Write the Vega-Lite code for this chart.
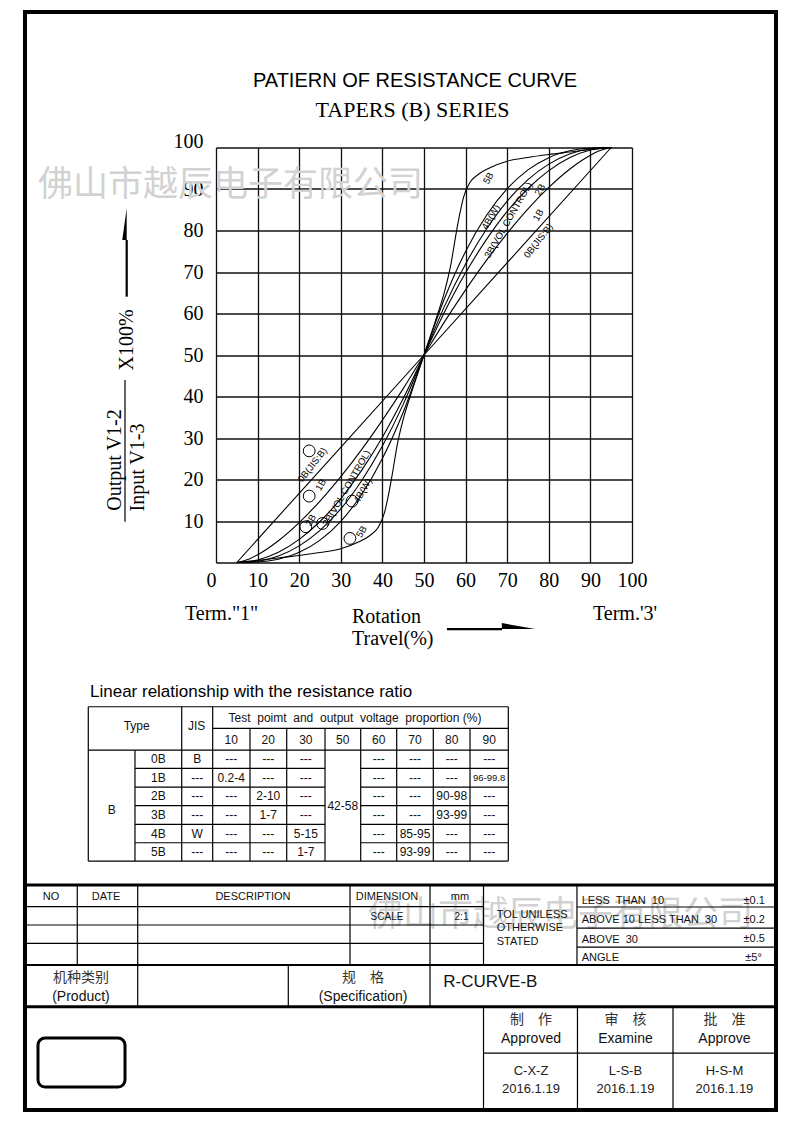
{
"$schema": "https://vega.github.io/schema/vega-lite/v6.json",
"width": 416,
"height": 415,
"autosize": {"type": "none"},
"padding": {"left": 216, "top": 147.5, "right": 162, "bottom": 560.5},
"background": "#ffffff",
"config": {"view": {"stroke": null}, "text": {"font": "Liberation Sans", "color": "#000"}},
"datasets": {
"curves": [
{"curve":"0B","x":5,"y":0},{"curve":"0B","x":50,"y":50},{"curve":"0B","x":95,"y":100},
{"curve":"1B","x":5,"y":0},{"curve":"1B","x":8,"y":0.86},{"curve":"1B","x":10,"y":1.85},{"curve":"1B","x":12,"y":3.07},{"curve":"1B","x":15,"y":5.24},{"curve":"1B","x":20,"y":9.62},{"curve":"1B","x":25,"y":14.8},{"curve":"1B","x":30,"y":20.7},{"curve":"1B","x":35,"y":27.2},{"curve":"1B","x":40,"y":34.3},{"curve":"1B","x":45,"y":41.9},{"curve":"1B","x":50,"y":50},{"curve":"1B","x":55,"y":58.1},{"curve":"1B","x":60,"y":65.7},{"curve":"1B","x":65,"y":72.8},{"curve":"1B","x":70,"y":79.3},{"curve":"1B","x":75,"y":85.2},{"curve":"1B","x":80,"y":90.38},{"curve":"1B","x":85,"y":94.76},{"curve":"1B","x":88,"y":96.93},{"curve":"1B","x":90,"y":98.15},{"curve":"1B","x":92,"y":99.14},{"curve":"1B","x":95,"y":100},
{"curve":"2B","x":5,"y":0},{"curve":"2B","x":10,"y":0.62},{"curve":"2B","x":15,"y":2.47},{"curve":"2B","x":20,"y":5.56},{"curve":"2B","x":25,"y":9.88},{"curve":"2B","x":30,"y":15.4},{"curve":"2B","x":35,"y":22.2},{"curve":"2B","x":40,"y":30.2},{"curve":"2B","x":45,"y":39.5},{"curve":"2B","x":50,"y":50},{"curve":"2B","x":55,"y":60.5},{"curve":"2B","x":60,"y":69.8},{"curve":"2B","x":65,"y":77.8},{"curve":"2B","x":70,"y":84.6},{"curve":"2B","x":75,"y":90.12},{"curve":"2B","x":80,"y":94.44},{"curve":"2B","x":85,"y":97.53},{"curve":"2B","x":90,"y":99.38},{"curve":"2B","x":95,"y":100},
{"curve":"3B","x":5,"y":0},{"curve":"3B","x":10,"y":0.32},{"curve":"3B","x":15,"y":1.57},{"curve":"3B","x":20,"y":4.0},{"curve":"3B","x":25,"y":7.74},{"curve":"3B","x":30,"y":12.9},{"curve":"3B","x":35,"y":19.7},{"curve":"3B","x":40,"y":28.05},{"curve":"3B","x":45,"y":38.1},{"curve":"3B","x":50,"y":50},{"curve":"3B","x":55,"y":61.9},{"curve":"3B","x":60,"y":71.95},{"curve":"3B","x":65,"y":80.3},{"curve":"3B","x":70,"y":87.1},{"curve":"3B","x":75,"y":92.26},{"curve":"3B","x":80,"y":96.0},{"curve":"3B","x":85,"y":98.43},{"curve":"3B","x":90,"y":99.68},{"curve":"3B","x":95,"y":100},
{"curve":"4B","x":5,"y":0},{"curve":"4B","x":10,"y":0.12},{"curve":"4B","x":15,"y":0.8},{"curve":"4B","x":20,"y":2.44},{"curve":"4B","x":25,"y":5.38},{"curve":"4B","x":30,"y":9.92},{"curve":"4B","x":35,"y":16.4},{"curve":"4B","x":40,"y":25.05},{"curve":"4B","x":45,"y":36.2},{"curve":"4B","x":50,"y":50},{"curve":"4B","x":55,"y":63.8},{"curve":"4B","x":60,"y":74.95},{"curve":"4B","x":65,"y":83.6},{"curve":"4B","x":70,"y":90.08},{"curve":"4B","x":75,"y":94.62},{"curve":"4B","x":80,"y":97.56},{"curve":"4B","x":85,"y":99.2},{"curve":"4B","x":90,"y":99.88},{"curve":"4B","x":95,"y":100},
{"curve":"5B","x":5,"y":0},{"curve":"5B","x":10,"y":0.5},{"curve":"5B","x":15,"y":1.1},{"curve":"5B","x":20,"y":1.7},{"curve":"5B","x":25,"y":2.4},{"curve":"5B","x":30,"y":3.3},{"curve":"5B","x":34,"y":4.8},{"curve":"5B","x":37,"y":6.5},{"curve":"5B","x":39,"y":8.5},{"curve":"5B","x":40.5,"y":12},{"curve":"5B","x":41.5,"y":16.5},{"curve":"5B","x":42.5,"y":22},{"curve":"5B","x":43.5,"y":28},{"curve":"5B","x":45,"y":34.5},{"curve":"5B","x":47,"y":41},{"curve":"5B","x":50,"y":50},{"curve":"5B","x":53,"y":59},{"curve":"5B","x":55,"y":65.5},{"curve":"5B","x":56.5,"y":72},{"curve":"5B","x":57.5,"y":78},{"curve":"5B","x":58.5,"y":83.5},{"curve":"5B","x":59.5,"y":88},{"curve":"5B","x":61,"y":91.5},{"curve":"5B","x":63,"y":93.5},{"curve":"5B","x":66,"y":95.2},{"curve":"5B","x":70,"y":96.7},{"curve":"5B","x":75,"y":97.6},{"curve":"5B","x":80,"y":98.3},{"curve":"5B","x":85,"y":98.9},{"curve":"5B","x":90,"y":99.5},{"curve":"5B","x":95,"y":100}
],
"curveLabels": [
{"text":"0B(JIS:B)","x":23.2,"y":23.5},{"text":"1B","x":25.2,"y":18.7},{"text":"2B","x":22.8,"y":10.2},{"text":"3B(VOL CONTROL)","x":31.4,"y":17.9},{"text":"4B(W)","x":35.3,"y":17.3},{"text":"5B","x":35.0,"y":7.4},
{"text":"5B","x":65.5,"y":92.6},{"text":"4B(W)","x":66.1,"y":83.2},{"text":"3B(VOL CONTROL)","x":70.3,"y":82.5},{"text":"2B","x":77.9,"y":89.8},{"text":"1B","x":77.5,"y":83.7},{"text":"0B(JIS:B)","x":77.5,"y":77.5}
],
"circles": [
{"x":22.4,"y":26.9},{"x":22.4,"y":16.0},{"x":21.6,"y":8.6},{"x":25.6,"y":9.4},{"x":32.7,"y":14.8},{"x":32.2,"y":5.8}
],
"frame": [{"x":6.61,"y":3.17,"x2":205.24,"y2":293.57}],
"badge": [{"x":10.05,"y":274.53,"x2":33.06,"y2":287.49}],
"arrowheads": [{"dir":"up","x":33.51,"y":59.29},{"dir":"right","x":137.13,"y":166.36}],
"thickLines": [
{"x":6.61,"y":234.07,"x2":205.24,"y2":234.07},
{"x":6.61,"y":266.25,"x2":205.24,"y2":266.25}
],
"midLines": [
{"x":6.61,"y":255.22,"x2":205.24,"y2":255.22},
{"x":33.51,"y":63.48,"x2":33.51,"y2":78.47},
{"x":118.22,"y":166.36,"x2":132.77,"y2":166.36}
],
"thinLines": [
{"x":23.35,"y":186.91,"x2":134.44,"y2":186.91},
{"x":56.25,"y":192.62,"x2":134.44,"y2":192.62},
{"x":23.35,"y":198.36,"x2":134.44,"y2":198.36},
{"x":35.70,"y":203.20,"x2":85.96,"y2":203.20},{"x":95.40,"y":203.20,"x2":134.44,"y2":203.20},
{"x":35.70,"y":208.15,"x2":85.96,"y2":208.15},{"x":95.40,"y":208.15,"x2":134.44,"y2":208.15},
{"x":35.70,"y":213.09,"x2":85.96,"y2":213.09},{"x":95.40,"y":213.09,"x2":134.44,"y2":213.09},
{"x":35.70,"y":218.01,"x2":85.96,"y2":218.01},{"x":95.40,"y":218.01,"x2":134.44,"y2":218.01},
{"x":35.70,"y":222.88,"x2":85.96,"y2":222.88},{"x":95.40,"y":222.88,"x2":134.44,"y2":222.88},
{"x":23.35,"y":227.72,"x2":134.44,"y2":227.72},
{"x":23.35,"y":186.91,"x2":23.35,"y2":227.72},
{"x":35.70,"y":198.36,"x2":35.70,"y2":227.72},
{"x":48.06,"y":186.91,"x2":48.06,"y2":227.72},
{"x":56.25,"y":186.91,"x2":56.25,"y2":227.72},
{"x":66.12,"y":192.62,"x2":66.12,"y2":227.72},
{"x":75.83,"y":192.62,"x2":75.83,"y2":227.72},
{"x":85.96,"y":192.62,"x2":85.96,"y2":227.72},
{"x":95.40,"y":192.62,"x2":95.40,"y2":227.72},
{"x":104.92,"y":192.62,"x2":104.92,"y2":227.72},
{"x":114.60,"y":192.62,"x2":114.60,"y2":227.72},
{"x":124.31,"y":192.62,"x2":124.31,"y2":227.72},
{"x":134.44,"y":186.91,"x2":134.44,"y2":227.72},
{"x":6.61,"y":239.80,"x2":127.88,"y2":239.80},
{"x":152.60,"y":239.88,"x2":205.24,"y2":239.88},
{"x":6.61,"y":244.64,"x2":127.88,"y2":244.64},
{"x":152.60,"y":245.44,"x2":205.24,"y2":245.44},
{"x":6.61,"y":249.48,"x2":127.88,"y2":249.48},
{"x":152.60,"y":250.46,"x2":205.24,"y2":250.46},
{"x":127.88,"y":278.50,"x2":205.24,"y2":278.50},
{"x":20.44,"y":234.07,"x2":20.44,"y2":255.22},
{"x":36.42,"y":234.07,"x2":36.42,"y2":266.25},
{"x":92.57,"y":234.07,"x2":92.57,"y2":255.22},
{"x":76.25,"y":255.22,"x2":76.25,"y2":266.25},
{"x":113.73,"y":234.07,"x2":113.73,"y2":266.25},
{"x":127.88,"y":234.07,"x2":127.88,"y2":255.22},
{"x":127.88,"y":266.25,"x2":127.88,"y2":293.57},
{"x":152.60,"y":234.07,"x2":152.60,"y2":255.22},
{"x":152.73,"y":266.25,"x2":152.73,"y2":293.57},
{"x":178.00,"y":266.25,"x2":178.00,"y2":293.57},
{"x":33.06,"y":100.50,"x2":33.06,"y2":137.98}
],
"notes": [
{"role":"title","text":"PATIERN OF RESISTANCE CURVE","x":109.76,"y":21.42},
{"role":"subtitle","text":"TAPERS (B) SERIES","x":109.10,"y":29.09},
{"role":"axisnote","text":"Term.\"1\"","x":48.93,"y":162.39},
{"role":"axisnote","text":"Rotation","x":93.10,"y":163.18},
{"role":"axisnote","text":"Travel(%)","x":93.10,"y":169.00},
{"role":"axisnote","text":"Term.'3'","x":156.84,"y":162.39},
{"role":"ytitle","text":"Output V1-2","x":30.42,"y":121.66},
{"role":"ytitle","text":"Input V1-3","x":36.37,"y":123.64},
{"role":"ytitle","text":"X100%","x":33.59,"y":89.92},
{"role":"watermark","text":"佛山市越辰电子有限公司","x":10.05,"y":48.93},
{"role":"watermark","text":"佛山市越辰电子有限公司","x":97.33,"y":242.0},
{"role":"tabletitle","text":"Linear relationship with the resistance ratio","x":23.80,"y":182.94},
{"role":"tablehdr","text":"Type","x":36.15,"y":192.01},
{"role":"tablehdr","text":"JIS","x":52.02,"y":192.01},
{"role":"tablehdr","text":"Test\u00a0 poimt\u00a0 and\u00a0 output\u00a0 voltage\u00a0 proportion (%)","x":93.89,"y":189.77},
{"role":"tablehdr","text":"B","x":29.54,"y":214.23},
{"role":"tablehdr","text":"42-58","x":90.66,"y":213.04},
{"role":"hdr","text":"NO","x":13.49,"y":237.11},
{"role":"hdr","text":"DATE","x":28.03,"y":237.11},
{"role":"hdr","text":"DESCRIPTION","x":66.91,"y":237.11},
{"role":"hdr","text":"DIMENSION","x":102.35,"y":237.11},
{"role":"hdr","text":"mm","x":121.66,"y":237.11},
{"role":"small","text":"SCALE","x":102.35,"y":242.40},
{"role":"small","text":"2:1","x":122.06,"y":242.40},
{"role":"tol","text":"TOL UNILESS","x":131.37,"y":242.0},
{"role":"tol","text":"OTHERWISE","x":131.37,"y":245.52},
{"role":"tol","text":"STATED","x":131.37,"y":249.06},
{"role":"tol","text":"LESS\u00a0 THAN\u00a0 10","x":153.85,"y":238.22},
{"role":"tol","text":"ABOVE 10 LESS THAN\u00a0 30","x":153.85,"y":243.32},
{"role":"tol","text":"ABOVE\u00a0 30","x":153.85,"y":248.48},
{"role":"tol","text":"ANGLE","x":153.85,"y":253.45},
{"role":"tolval","text":"±0.1","x":202.3,"y":238.22},
{"role":"tolval","text":"±0.2","x":202.3,"y":243.32},
{"role":"tolval","text":"±0.5","x":202.3,"y":248.35},
{"role":"tolval","text":"±5°","x":201.5,"y":253.24},
{"role":"big","text":"R-CURVE-B","x":117.25,"y":259.64},
{"role":"cjk","text":"机种类别","x":21.42,"y":258.74},
{"role":"cjk","text":"规　格","x":96.01,"y":258.74},
{"role":"cjk","text":"制　作","x":140.44,"y":269.77},
{"role":"cjk","text":"审　核","x":165.43,"y":269.77},
{"role":"cjk","text":"批　准","x":191.6,"y":269.77},
{"role":"en14","text":"(Product)","x":21.42,"y":263.61},
{"role":"en14","text":"(Specification)","x":96.01,"y":263.61},
{"role":"en14","text":"Approved","x":140.44,"y":274.80},
{"role":"en14","text":"Examine","x":165.43,"y":274.80},
{"role":"en14","text":"Approve","x":191.6,"y":274.80},
{"role":"sign","text":"C-X-Z","x":140.44,"y":283.26},
{"role":"sign","text":"2016.1.19","x":140.44,"y":288.02},
{"role":"sign","text":"L-S-B","x":165.43,"y":283.26},
{"role":"sign","text":"2016.1.19","x":165.43,"y":288.02},
{"role":"sign","text":"H-S-M","x":191.6,"y":283.26},
{"role":"sign","text":"2016.1.19","x":191.6,"y":288.02}
],
"tcols": [
{"col":"Type","x":41.87},{"col":"JIS","x":52.16},{"col":"10","x":61.17},{"col":"20","x":70.96},{"col":"30","x":80.88},{"col":"50","x":90.66},{"col":"60","x":100.16},{"col":"70","x":109.76},{"col":"80","x":119.47},{"col":"90","x":129.38}
],
"trows": [
{"type":"hdr","y":195.58},{"type":"0B","y":200.79},{"type":"1B","y":205.69},{"type":"2B","y":210.61},{"type":"3B","y":215.55},{"type":"4B","y":220.44},{"type":"5B","y":225.28}
],
"cells": [
{"type":"hdr","col":"10","value":"10"},{"type":"hdr","col":"20","value":"20"},{"type":"hdr","col":"30","value":"30"},{"type":"hdr","col":"50","value":"50"},{"type":"hdr","col":"60","value":"60"},{"type":"hdr","col":"70","value":"70"},{"type":"hdr","col":"80","value":"80"},{"type":"hdr","col":"90","value":"90"},
{"type":"0B","col":"Type","value":"0B"},{"type":"0B","col":"JIS","value":"B"},{"type":"0B","col":"10","value":"---"},{"type":"0B","col":"20","value":"---"},{"type":"0B","col":"30","value":"---"},{"type":"0B","col":"60","value":"---"},{"type":"0B","col":"70","value":"---"},{"type":"0B","col":"80","value":"---"},{"type":"0B","col":"90","value":"---"},
{"type":"1B","col":"Type","value":"1B"},{"type":"1B","col":"JIS","value":"---"},{"type":"1B","col":"10","value":"0.2-4"},{"type":"1B","col":"20","value":"---"},{"type":"1B","col":"30","value":"---"},{"type":"1B","col":"60","value":"---"},{"type":"1B","col":"70","value":"---"},{"type":"1B","col":"80","value":"---"},{"type":"1B","col":"90","value":"96-99.8"},
{"type":"2B","col":"Type","value":"2B"},{"type":"2B","col":"JIS","value":"---"},{"type":"2B","col":"10","value":"---"},{"type":"2B","col":"20","value":"2-10"},{"type":"2B","col":"30","value":"---"},{"type":"2B","col":"60","value":"---"},{"type":"2B","col":"70","value":"---"},{"type":"2B","col":"80","value":"90-98"},{"type":"2B","col":"90","value":"---"},
{"type":"3B","col":"Type","value":"3B"},{"type":"3B","col":"JIS","value":"---"},{"type":"3B","col":"10","value":"---"},{"type":"3B","col":"20","value":"1-7"},{"type":"3B","col":"30","value":"---"},{"type":"3B","col":"60","value":"---"},{"type":"3B","col":"70","value":"---"},{"type":"3B","col":"80","value":"93-99"},{"type":"3B","col":"90","value":"---"},
{"type":"4B","col":"Type","value":"4B"},{"type":"4B","col":"JIS","value":"W"},{"type":"4B","col":"10","value":"---"},{"type":"4B","col":"20","value":"---"},{"type":"4B","col":"30","value":"5-15"},{"type":"4B","col":"60","value":"---"},{"type":"4B","col":"70","value":"85-95"},{"type":"4B","col":"80","value":"---"},{"type":"4B","col":"90","value":"---"},
{"type":"5B","col":"Type","value":"5B"},{"type":"5B","col":"JIS","value":"---"},{"type":"5B","col":"10","value":"---"},{"type":"5B","col":"20","value":"---"},{"type":"5B","col":"30","value":"1-7"},{"type":"5B","col":"60","value":"---"},{"type":"5B","col":"70","value":"93-99"},{"type":"5B","col":"80","value":"---"},{"type":"5B","col":"90","value":"---"}
]
},
"layer": [
{
"encoding": {
"x": {"field": "x", "type": "quantitative", "scale": {"domain": [0, 100], "nice": false, "zero": false},
"axis": {"values": [0,10,20,30,40,50,60,70,80,90,100], "grid": true, "gridColor": "#111", "gridWidth": 1.3, "gridOpacity": 1, "ticks": false, "domain": false, "labelFont": "Liberation Serif", "labelFontSize": 20, "labelColor": "#000", "labelPadding": 8, "labelAlign": {"condition": {"test": "datum.value == 0", "value": "right"}, "value": "center"}, "labelFlush": false, "labelOverlap": false, "title": null}},
"y": {"field": "y", "type": "quantitative", "scale": {"domain": [0, 100], "nice": false, "zero": false},
"axis": {"values": [0,10,20,30,40,50,60,70,80,90,100], "grid": true, "gridColor": "#111", "gridWidth": 1.3, "gridOpacity": 1, "ticks": false, "domain": false, "labelFont": "Liberation Serif", "labelFontSize": 20, "labelColor": "#000", "labelPadding": 13, "labelExpr": "datum.value == 0 ? '' : datum.label", "labelBaseline": {"condition": {"test": "datum.value == 100", "value": "alphabetic"}, "value": "middle"}, "labelFlush": false, "labelOverlap": false, "title": null}}
},
"layer": [
{"data": {"name": "curves"}, "mark": {"type": "line", "color": "#000", "strokeWidth": 1.1, "interpolate": "monotone"}, "encoding": {"detail": {"field": "curve"}}},
{"data": {"name": "curveLabels"}, "transform": [{"filter": "datum.text != '0B(JIS:B)'"}], "mark": {"type": "text", "angle": 300, "fontSize": 9.5, "font": "Liberation Sans", "align": "center", "baseline": "middle"}, "encoding": {"text": {"field": "text"}}},
{"data": {"name": "curveLabels"}, "transform": [{"filter": "datum.text == '0B(JIS:B)'"}], "mark": {"type": "text", "angle": 308, "fontSize": 9.5, "font": "Liberation Sans", "align": "center", "baseline": "middle"}, "encoding": {"text": {"field": "text"}}},
{"data": {"name": "circles"}, "mark": {"type": "point", "shape": "circle", "filled": false, "size": 140, "color": "#000", "strokeWidth": 1, "opacity": 1}}
]
},
{
"encoding": {
"x": {"field": "x", "type": "quantitative", "scale": {"domain": [0, 210], "range": [-216, 578], "nice": false, "zero": false}, "axis": null},
"y": {"field": "y", "type": "quantitative", "scale": {"domain": [0, 297], "range": [-147.5, 975.5], "nice": false, "zero": false}, "axis": null}
},
"layer": [
{"data": {"name": "notes"}, "transform": [{"filter": "datum.role == 'watermark'"}], "mark": {"type": "text", "font": "Noto Sans CJK SC", "fontSize": 35, "align": "left", "baseline": "middle", "color": "#d2d2d2"}, "encoding": {"text": {"field": "text"}}},
{"data": {"name": "frame"}, "mark": {"type": "rect", "filled": false, "color": "#000", "strokeWidth": 4}, "encoding": {"x2": {"field": "x2"}, "y2": {"field": "y2"}}},
{"data": {"name": "thinLines"}, "mark": {"type": "rule", "color": "#000", "strokeWidth": 1.2}, "encoding": {"x2": {"field": "x2"}, "y2": {"field": "y2"}}},
{"data": {"name": "midLines"}, "mark": {"type": "rule", "color": "#000", "strokeWidth": 2.2}, "encoding": {"x2": {"field": "x2"}, "y2": {"field": "y2"}}},
{"data": {"name": "thickLines"}, "mark": {"type": "rule", "color": "#000", "strokeWidth": 3}, "encoding": {"x2": {"field": "x2"}, "y2": {"field": "y2"}}},
{"data": {"name": "badge"}, "mark": {"type": "rect", "filled": false, "color": "#000", "strokeWidth": 3, "cornerRadius": 7}, "encoding": {"x2": {"field": "x2"}, "y2": {"field": "y2"}}},
{"data": {"name": "arrowheads"}, "transform": [{"filter": "datum.dir == 'up'"}], "mark": {"type": "point", "shape": "M0,-1L0,1L-0.28,1Z", "filled": true, "size": 1005, "color": "#000", "opacity": 1}},
{"data": {"name": "arrowheads"}, "transform": [{"filter": "datum.dir == 'right'"}], "mark": {"type": "point", "shape": "M-1,-0.36L1,0L-1,0Z", "filled": true, "size": 1111, "color": "#000", "opacity": 1}},
{"data": {"name": "notes"}, "transform": [{"filter": "datum.role == 'title'"}], "mark": {"type": "text", "font": "Liberation Sans", "fontSize": 20, "align": "center", "baseline": "middle"}, "encoding": {"text": {"field": "text"}}},
{"data": {"name": "notes"}, "transform": [{"filter": "datum.role == 'subtitle'"}], "mark": {"type": "text", "font": "Liberation Serif", "fontSize": 22, "align": "center", "baseline": "middle"}, "encoding": {"text": {"field": "text"}}},
{"data": {"name": "notes"}, "transform": [{"filter": "datum.role == 'axisnote'"}], "mark": {"type": "text", "font": "Liberation Serif", "fontSize": 20, "align": "left", "baseline": "middle"}, "encoding": {"text": {"field": "text"}}},
{"data": {"name": "notes"}, "transform": [{"filter": "datum.role == 'ytitle'"}], "mark": {"type": "text", "font": "Liberation Serif", "fontSize": 20, "align": "center", "baseline": "middle", "angle": 270}, "encoding": {"text": {"field": "text"}}},
{"data": {"name": "notes"}, "transform": [{"filter": "datum.role == 'tabletitle'"}], "mark": {"type": "text", "font": "Liberation Sans", "fontSize": 17, "align": "left", "baseline": "middle"}, "encoding": {"text": {"field": "text"}}},
{"data": {"name": "notes"}, "transform": [{"filter": "datum.role == 'tablehdr'"}], "mark": {"type": "text", "font": "Liberation Sans", "fontSize": 12, "align": "center", "baseline": "middle", "color": "#111"}, "encoding": {"text": {"field": "text"}}},
{"data": {"name": "cells"}, "transform": [{"lookup": "col", "from": {"data": {"name": "tcols"}, "key": "col", "fields": ["x"]}}, {"lookup": "type", "from": {"data": {"name": "trows"}, "key": "type", "fields": ["y"]}}], "mark": {"type": "text", "font": "Liberation Sans", "align": "center", "baseline": "middle", "color": "#111"}, "encoding": {"text": {"field": "value"}, "size": {"condition": {"test": "datum.value == '96-99.8'", "value": 9.5}, "value": 12}}},
{"data": {"name": "notes"}, "transform": [{"filter": "datum.role == 'hdr'"}], "mark": {"type": "text", "font": "Liberation Sans", "fontSize": 11, "align": "center", "baseline": "middle", "color": "#111"}, "encoding": {"text": {"field": "text"}}},
{"data": {"name": "notes"}, "transform": [{"filter": "datum.role == 'small'"}], "mark": {"type": "text", "font": "Liberation Sans", "fontSize": 10, "align": "center", "baseline": "middle", "color": "#111"}, "encoding": {"text": {"field": "text"}}},
{"data": {"name": "notes"}, "transform": [{"filter": "datum.role == 'tol'"}], "mark": {"type": "text", "font": "Liberation Sans", "fontSize": 11, "align": "left", "baseline": "middle", "color": "#111"}, "encoding": {"text": {"field": "text"}}},
{"data": {"name": "notes"}, "transform": [{"filter": "datum.role == 'tolval'"}], "mark": {"type": "text", "font": "Liberation Sans", "fontSize": 11, "align": "right", "baseline": "middle", "color": "#111"}, "encoding": {"text": {"field": "text"}}},
{"data": {"name": "notes"}, "transform": [{"filter": "datum.role == 'big'"}], "mark": {"type": "text", "font": "Liberation Sans", "fontSize": 17, "align": "left", "baseline": "middle", "color": "#111"}, "encoding": {"text": {"field": "text"}}},
{"data": {"name": "notes"}, "transform": [{"filter": "datum.role == 'cjk'"}], "mark": {"type": "text", "font": "Noto Sans CJK SC", "fontSize": 14, "align": "center", "baseline": "middle", "color": "#333"}, "encoding": {"text": {"field": "text"}}},
{"data": {"name": "notes"}, "transform": [{"filter": "datum.role == 'en14'"}], "mark": {"type": "text", "font": "Liberation Sans", "fontSize": 14, "align": "center", "baseline": "middle", "color": "#111"}, "encoding": {"text": {"field": "text"}}},
{"data": {"name": "notes"}, "transform": [{"filter": "datum.role == 'sign'"}], "mark": {"type": "text", "font": "Liberation Sans", "fontSize": 13, "align": "center", "baseline": "middle", "color": "#222"}, "encoding": {"text": {"field": "text"}}}
]
}
],
"resolve": {"scale": {"x": "independent", "y": "independent"}}
}
